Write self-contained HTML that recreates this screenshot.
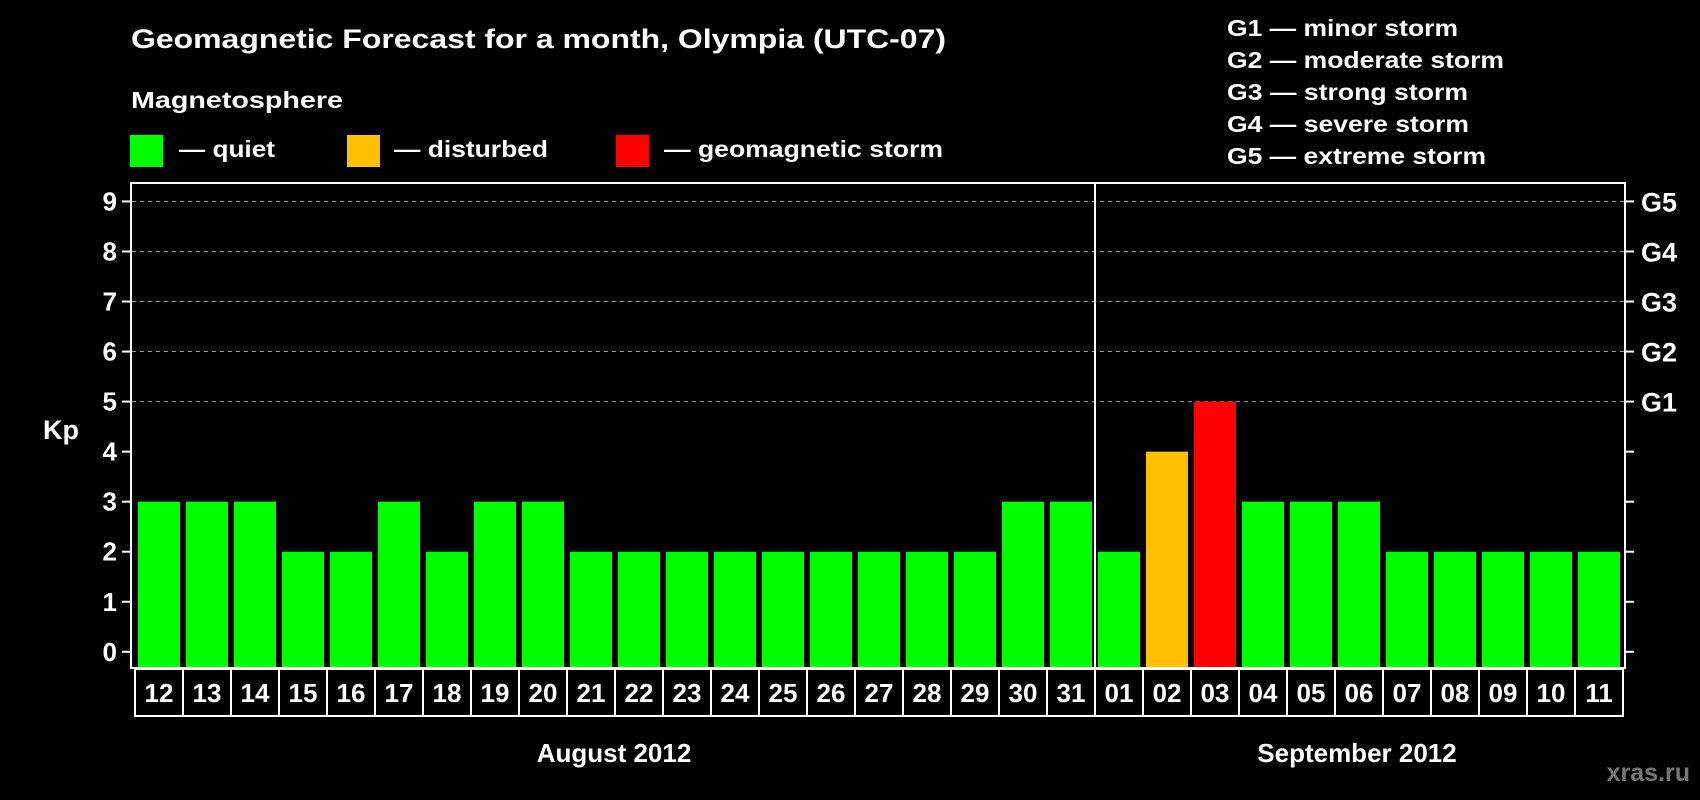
<!DOCTYPE html>
<html><head><meta charset="utf-8"><style>
html,body{margin:0;padding:0;background:#000;}
svg{display:block;font-family:"Liberation Sans",Arial,sans-serif;font-weight:bold;}
</style></head><body>
<svg id="chart" width="1700" height="800" viewBox="0 0 1700 800" xmlns="http://www.w3.org/2000/svg">
<rect x="0" y="0" width="1700" height="800" fill="#000"/>
<text x="131" y="48" fill="#fff" font-size="27" textLength="815" lengthAdjust="spacingAndGlyphs">Geomagnetic Forecast for a month, Olympia (UTC-07)</text>
<text x="131" y="108" fill="#fff" font-size="23" textLength="212" lengthAdjust="spacingAndGlyphs">Magnetosphere</text>
<g>
<rect x="130" y="135" width="33" height="32" fill="#00ff00"/>
<text x="179" y="157" fill="#fff" font-size="23" textLength="96" lengthAdjust="spacingAndGlyphs">— quiet</text></g>
<g>
<rect x="347" y="135" width="33" height="32" fill="#ffc000"/>
<text x="394" y="157" fill="#fff" font-size="23" textLength="154" lengthAdjust="spacingAndGlyphs">— disturbed</text></g>
<g>
<rect x="616" y="135" width="33" height="32" fill="#ff0000"/>
<text x="664" y="157" fill="#fff" font-size="23" textLength="279" lengthAdjust="spacingAndGlyphs">— geomagnetic storm</text></g>
<g fill="#fff" font-size="23">
<text x="1227" y="36" textLength="231" lengthAdjust="spacingAndGlyphs">G1 — minor storm</text>
<text x="1227" y="68" textLength="277" lengthAdjust="spacingAndGlyphs">G2 — moderate storm</text>
<text x="1227" y="100" textLength="241" lengthAdjust="spacingAndGlyphs">G3 — strong storm</text>
<text x="1227" y="132" textLength="242" lengthAdjust="spacingAndGlyphs">G4 — severe storm</text>
<text x="1227" y="164" textLength="259" lengthAdjust="spacingAndGlyphs">G5 — extreme storm</text>
</g>
<text x="43" y="439" fill="#fff" font-size="27">Kp</text>
<g id="plot"></g>
<text x="614" y="762" fill="#fff" font-size="26" text-anchor="middle">August 2012</text>
<text x="1357" y="762" fill="#fff" font-size="26" text-anchor="middle">September 2012</text>
<text x="1690" y="781" fill="#777" font-size="25" text-anchor="end">xras.ru</text>
</svg>
<script>
const augDays = ["12","13","14","15","16","17","18","19","20","21","22","23","24","25","26","27","28","29","30","31"];
const augKp = [3,3,3,2,2,3,2,3,3,2,2,2,2,2,2,2,2,2,3,3];
const sepDays = ["01","02","03","04","05","06","07","08","09","10","11"];
const sepKp = [2,4,5,3,3,3,2,2,2,2,2];
const yTicks = [0,1,2,3,4,5,6,7,8,9];
const gLabels = ["G1","G2","G3","G4","G5"];
const gLevels = [5,6,7,8,9];

const NS="http://www.w3.org/2000/svg";
const plot=document.getElementById('plot');
const L=131,R=1625,T=183,B=668,DIV=1095,CELL0=135,CELLW=48;
function y(v){return 651.8-v*50.04;}
function mk(tag,attrs,parent){const e=document.createElementNS(NS,tag);for(const k in attrs)e.setAttribute(k,attrs[k]);(parent||plot).appendChild(e);return e;}
function color(v){return v>=5?"#ff0000":(v>=4?"#ffc000":"#00ff00");}

gLevels.forEach(v=>{
  const g=mk('line',{x1:L+1,x2:R-1,y1:y(v),y2:y(v),stroke:"#999","stroke-width":1,"stroke-dasharray":"4,4"});
  
  
});
yTicks.forEach(v=>{
  mk('line',{x1:122,x2:L,y1:y(v),y2:y(v),stroke:"#fff","stroke-width":2});
  mk('line',{x1:R,x2:R+9,y1:y(v),y2:y(v),stroke:"#fff","stroke-width":2});
  const t=mk('text',{x:117,y:y(v)+9,fill:"#fff","font-size":26,"text-anchor":"end"});
  t.textContent=v;
  
  
});
gLabels.forEach((g,i)=>{
  const t=mk('text',{x:1641,y:y(gLevels[i])+10,fill:"#fff","font-size":27});
  t.textContent=g;
  
  
});
function drawGroup(days,vals,x0,w,gap){
  days.forEach((d,i)=>{
    const cx=x0+i*w;
    const v=vals[i];
    const b=mk('rect',{x:cx+gap/2,y:y(v),width:w-gap,height:B-y(v)-1,fill:color(v)});
    
    
    const c=mk('rect',{x:cx,y:669,width:w,height:47,fill:"none",stroke:"#fff","stroke-width":2});
    
    
    const t=mk('text',{x:cx+w/2,y:702,fill:"#fff","font-size":26,"text-anchor":"middle"});
    t.textContent=d;
    
    
  });
}
drawGroup(augDays,augKp,CELL0,CELLW,6);
drawGroup(sepDays,sepKp,DIV,CELLW,6);
const f=mk('rect',{x:L,y:T,width:R-L,height:B-T,fill:"none",stroke:"#fff","stroke-width":2});


const dv=mk('line',{x1:DIV,x2:DIV,y1:T,y2:716,stroke:"#fff","stroke-width":2});


</script>
</body></html>
